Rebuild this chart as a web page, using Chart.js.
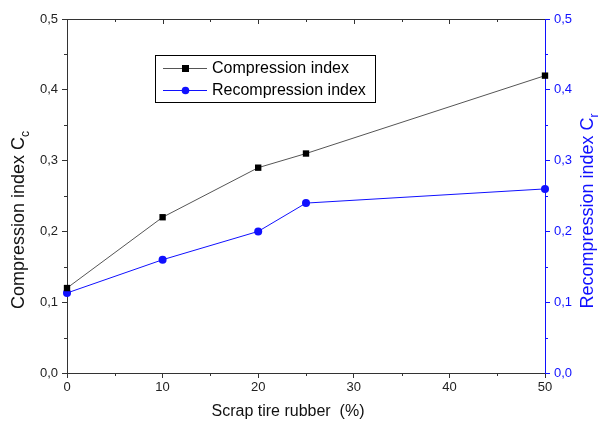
<!DOCTYPE html>
<html>
<head>
<meta charset="utf-8">
<script src="https://cdn.jsdelivr.net/npm/chart.js@4.4.0/dist/chart.umd.min.js"></script>
<style>
  html, body { margin: 0; padding: 0; background: #fff; }
  #wrap { width: 600px; height: 425px; }
</style>
</head>
<body>
<div id="wrap"><canvas id="chart"></canvas></div>
<script>
const rubber = [0, 10, 20, 25, 50];
const compression = [0.12, 0.22, 0.29, 0.31, 0.42];
const recompression = [0.113, 0.16, 0.20, 0.24, 0.26];

const FONT = "'Liberation Sans', Arial, sans-serif";
const BLUE = "#1010ff";

const isMajor = (v, step) => Math.abs(v / step - Math.round(v / step)) < 1e-6;
const comma = (v) => v.toFixed(1).replace(".", ",");

// minor ticks, top frame, axis titles with subscripts and the legend box
const decor = {
  id: "decor",
  afterDraw(chart) {
    const { ctx, chartArea: a, scales } = chart;
    ctx.save();
    ctx.lineWidth = 1;

    // top frame
    ctx.strokeStyle = "#333";
    ctx.beginPath();
    ctx.moveTo(a.left, a.top + 0.5);
    ctx.lineTo(a.right, a.top + 0.5);
    ctx.stroke();

    // x minor ticks bottom, all ticks top (inward)
    scales.x.ticks.forEach((t) => {
      const px = Math.round(scales.x.getPixelForValue(t.value)) + 0.5;
      const major = isMajor(t.value, 10);
      if (!major) {
        ctx.beginPath();
        ctx.moveTo(px, a.bottom);
        ctx.lineTo(px, a.bottom + 3);
        ctx.stroke();
      }
      if (t.value > 0 && t.value < 50) {
        ctx.beginPath();
        ctx.moveTo(px, a.top);
        ctx.lineTo(px, a.top + (major ? 5 : 3));
        ctx.stroke();
      }
    });

    // y minor ticks
    [["y", "#333", -1], ["y2", BLUE, 1]].forEach(([id, col, dir]) => {
      const s = scales[id];
      const x0 = dir < 0 ? a.left : a.right;
      ctx.strokeStyle = col;
      s.ticks.forEach((t) => {
        if (isMajor(t.value, 0.1)) return;
        const py = Math.round(s.getPixelForValue(t.value)) + 0.5;
        ctx.beginPath();
        ctx.moveTo(x0, py);
        ctx.lineTo(x0 + dir * 3, py);
        ctx.stroke();
      });
    });

    // axis titles
    const title = (x, y, main, sub, col) => {
      ctx.save();
      ctx.translate(x, y);
      ctx.rotate(-Math.PI / 2);
      ctx.fillStyle = col;
      ctx.textBaseline = "middle";
      ctx.font = "18px " + FONT;
      const w1 = ctx.measureText(main).width;
      ctx.font = "12px " + FONT;
      const w2 = ctx.measureText(sub).width;
      const start = -(w1 + w2) / 2;
      ctx.font = "18px " + FONT;
      ctx.textAlign = "left";
      ctx.fillText(main, start, 0);
      ctx.font = "12px " + FONT;
      ctx.fillText(sub, start + w1, 7);
      ctx.restore();
    };
    title(19, 220, "Compression index C", "c", "#111");
    title(588, 211, "Recompression index C", "r", BLUE);

    ctx.fillStyle = "#111";
    ctx.font = "16px " + FONT;
    ctx.textAlign = "center";
    ctx.textBaseline = "middle";
    ctx.fillText("Scrap tire rubber  (%)", 288, 412);

    // legend box
    const lx = 155, ly = 55, lw = 220, lh = 47;
    ctx.fillStyle = "#fff";
    ctx.fillRect(lx, ly, lw, lh);
    ctx.strokeStyle = "#000";
    ctx.strokeRect(lx + 0.5, ly + 0.5, lw, lh);
    chart.data.datasets.forEach((ds, i) => {
      const cy = ly + 13 + i * 22;
      ctx.strokeStyle = ds.borderColor;
      ctx.beginPath();
      ctx.moveTo(163, cy + 0.5);
      ctx.lineTo(207, cy + 0.5);
      ctx.stroke();
      ctx.fillStyle = ds.pointBackgroundColor;
      if (ds.pointStyle === "rect") {
        ctx.fillRect(182, cy - 3, 7, 7);
      } else {
        ctx.beginPath();
        ctx.arc(185.5, cy + 0.5, 3.8, 0, Math.PI * 2);
        ctx.fill();
      }
      ctx.fillStyle = "#000";
      ctx.font = "16px " + FONT;
      ctx.textAlign = "left";
      ctx.textBaseline = "middle";
      ctx.fillText(ds.label, 212, cy + 1);
    });
    ctx.restore();
  }
};

new Chart(document.getElementById("chart"), {
  type: "line",
  data: {
    datasets: [
      {
        label: "Compression index",
        data: rubber.map((x, i) => ({ x, y: compression[i] })),
        borderColor: "#555",
        borderWidth: 1,
        pointStyle: "rect",
        pointRadius: 4.5,
        pointBackgroundColor: "#000",
        pointBorderColor: "#000",
        pointBorderWidth: 0,
        yAxisID: "y",
        clip: false
      },
      {
        label: "Recompression index",
        data: rubber.map((x, i) => ({ x, y: recompression[i] })),
        borderColor: BLUE,
        borderWidth: 1,
        pointStyle: "circle",
        pointRadius: 4,
        pointBackgroundColor: BLUE,
        pointBorderColor: BLUE,
        pointBorderWidth: 0,
        yAxisID: "y2",
        clip: false
      }
    ]
  },
  options: {
    responsive: true,
    maintainAspectRatio: false,
    animation: false,
    layout: { padding: { top: 19, left: 0, right: 0, bottom: 0 } },
    plugins: {
      legend: { display: false },
      tooltip: { enabled: false }
    },
    scales: {
      x: {
        type: "linear",
        min: 0,
        max: 50,
        afterFit: (s) => { s.height = 52; },
        ticks: {
          stepSize: 5,
          autoSkip: false,
          maxRotation: 0,
          padding: 2,
          color: "#222",
          font: { family: FONT, size: 13 },
          callback: (v) => (isMajor(v, 10) ? String(v) : "")
        },
        grid: {
          drawOnChartArea: false,
          tickLength: 5,
          tickColor: (c) => (isMajor(c.tick.value, 10) ? "#333" : "rgba(0,0,0,0)")
        },
        border: { color: "#333", width: 1 }
      },
      y: {
        position: "left",
        min: 0,
        max: 0.5,
        afterFit: (s) => { s.width = 67; },
        ticks: {
          stepSize: 0.05,
          autoSkip: false,
          padding: 4,
          color: "#222",
          font: { family: FONT, size: 13 },
          callback: (v) => (isMajor(v, 0.1) ? comma(v) : "")
        },
        grid: {
          drawOnChartArea: false,
          tickLength: 5,
          tickColor: (c) => (isMajor(c.tick.value, 0.1) ? "#333" : "rgba(0,0,0,0)")
        },
        border: { color: "#333", width: 1 }
      },
      y2: {
        position: "right",
        min: 0,
        max: 0.5,
        afterFit: (s) => { s.width = 55; },
        ticks: {
          stepSize: 0.05,
          autoSkip: false,
          padding: 4,
          color: BLUE,
          font: { family: FONT, size: 13 },
          callback: (v) => (isMajor(v, 0.1) ? comma(v) : "")
        },
        grid: {
          drawOnChartArea: false,
          tickLength: 5,
          tickColor: (c) => (isMajor(c.tick.value, 0.1) ? BLUE : "rgba(0,0,0,0)")
        },
        border: { color: BLUE, width: 1 }
      }
    }
  },
  plugins: [decor]
});
</script>
</body>
</html>
